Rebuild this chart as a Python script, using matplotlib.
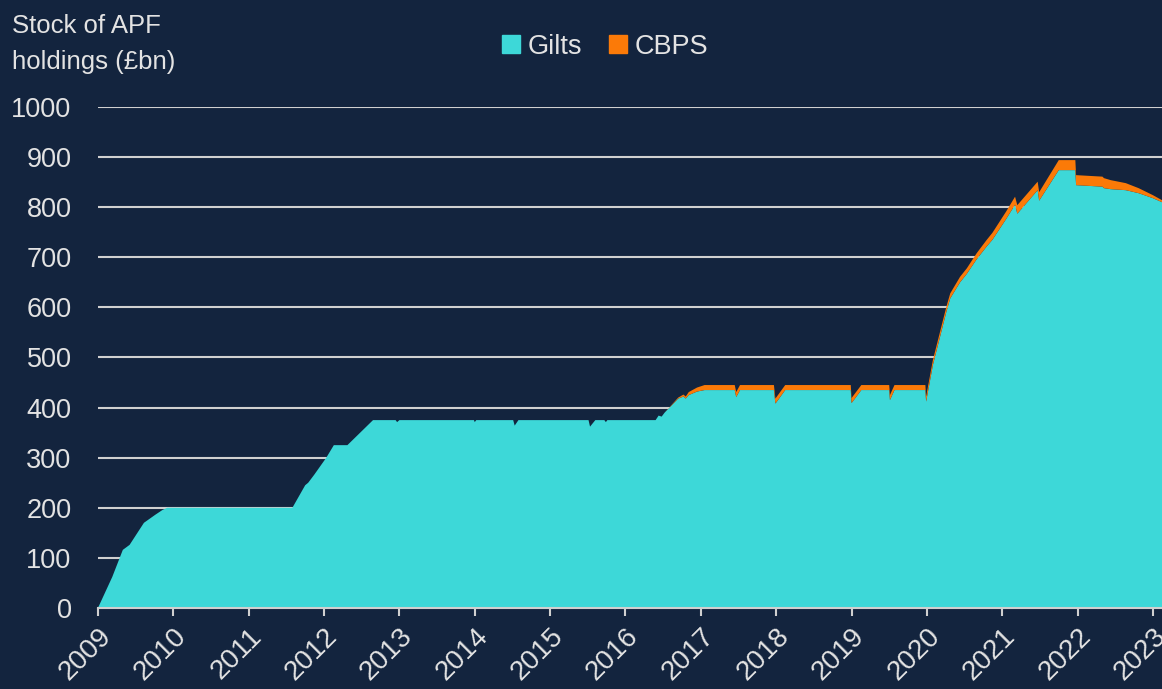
import numpy as np
import matplotlib.pyplot as plt
from matplotlib.patches import Patch

# decimal years
dates = [2009.00, 2009.19, 2009.33, 2009.42, 2009.61, 2009.76, 2009.86, 2009.92,
         2011.58, 2011.75, 2011.79, 2011.87, 2012.03, 2012.13, 2012.31, 2012.65,
         2012.95, 2012.97, 2013.00, 2013.99, 2014.00, 2014.02, 2014.51, 2014.53,
         2014.58, 2015.51, 2015.53, 2015.60, 2015.72, 2015.74, 2015.76, 2016.40,
         2016.44, 2016.48, 2016.52, 2016.70, 2016.77, 2016.80, 2016.84, 2016.95,
         2017.05, 2017.45, 2017.47, 2017.52, 2017.97, 2017.99, 2018.12, 2018.99,
         2019.00, 2019.13, 2019.50, 2019.51, 2019.57, 2019.98, 2019.99, 2020.08,
         2020.26, 2020.31, 2020.44, 2020.53, 2020.66, 2020.79, 2020.87, 2021.05,
         2021.17, 2021.20, 2021.47, 2021.49, 2021.75, 2021.97, 2021.98, 2022.33,
         2022.35, 2022.44, 2022.64, 2022.81, 2023.00, 2023.12]
gilts = [0, 62, 116, 126, 170, 186, 196, 200,
         200, 245, 250, 266, 300, 325, 325, 375,
         375, 371, 375, 375, 371, 375, 375, 364,
         375, 375, 362, 375, 375, 371, 375, 375,
         384, 382, 390, 418, 422, 418, 425, 432,
         435, 435, 421, 435, 435, 408, 435, 435,
         409, 435, 435, 415, 435, 435, 412, 485,
         592, 618, 650, 667, 696, 721, 735, 776,
         805, 787, 834, 813, 874, 874, 844, 841,
         838, 836, 834, 828, 818, 810]
cbps = [0, 0, 0, 0, 0, 0, 0, 0,
        0, 0, 0, 0, 0, 0, 0, 0,
        0, 0, 0, 0, 0, 0, 0, 0,
        0, 0, 0, 0, 0, 0, 0, 0,
        0, 0, 0, 2, 4, 4, 6, 8,
        10, 10, 10, 10, 10, 10, 10, 10,
        10, 10, 10, 10, 10, 10, 10, 10,
        10, 10, 11, 11, 12, 13, 14, 15,
        16, 17, 17, 17, 20, 20, 20, 20,
        20, 18, 14, 10, 6, 4]
years = list(range(2009, 2024))
yticks = list(range(0, 1001, 100))

bg = '#13243e'
teal = '#3dd8d8'
orange = '#fb7a08'
txt = '#e3e3e3'

plt.rcParams['font.family'] = ['Liberation Sans', 'DejaVu Sans']

fig = plt.figure(figsize=(11.62, 6.89), dpi=100, facecolor=bg)
ax = fig.add_axes([0.0843, 0.1176, 0.9157, 0.7271], facecolor=bg)

ax.stackplot(dates, gilts, cbps, colors=[teal, orange], linewidth=0, zorder=3)

ax.set_xlim(2009, 2023.12)
ax.set_ylim(0, 1000)
ax.set_yticks(yticks)
ax.set_xticks(years)
ax.set_xticklabels([str(y) for y in years], rotation=45, ha='right',
                   rotation_mode='anchor')
ax.grid(axis='y', color='#d0d0d0', linewidth=1.5, zorder=0)
ax.set_axisbelow(True)

for s in ['top', 'right', 'left']:
    ax.spines[s].set_visible(False)
ax.spines['bottom'].set_color('#d0d0d0')
ax.spines['bottom'].set_linewidth(1.5)
ax.spines['bottom'].set_zorder(4)

ax.tick_params(axis='y', length=0, pad=19, labelsize=19.5, labelcolor=txt)
ax.tick_params(axis='x', length=6, width=1.5, color='#d0d0d0', pad=5,
               labelsize=20, labelcolor=txt)

fig.text(0.0105, 0.979, 'Stock of APF\nholdings (£bn)', color=txt, fontsize=18.5,
         va='top', ha='left', linespacing=1.6)

handles = [Patch(color=teal, label='Gilts'), Patch(color=orange, label='CBPS')]
fig.legend(handles=handles, loc='center', bbox_to_anchor=(0.521, 0.932), ncol=2,
           frameon=False, fontsize=19.5, labelcolor=txt, handlelength=0.65,
           handleheight=0.65, handletextpad=0.3, columnspacing=1.0)

fig.savefig('out.png', dpi=100, facecolor=bg)
